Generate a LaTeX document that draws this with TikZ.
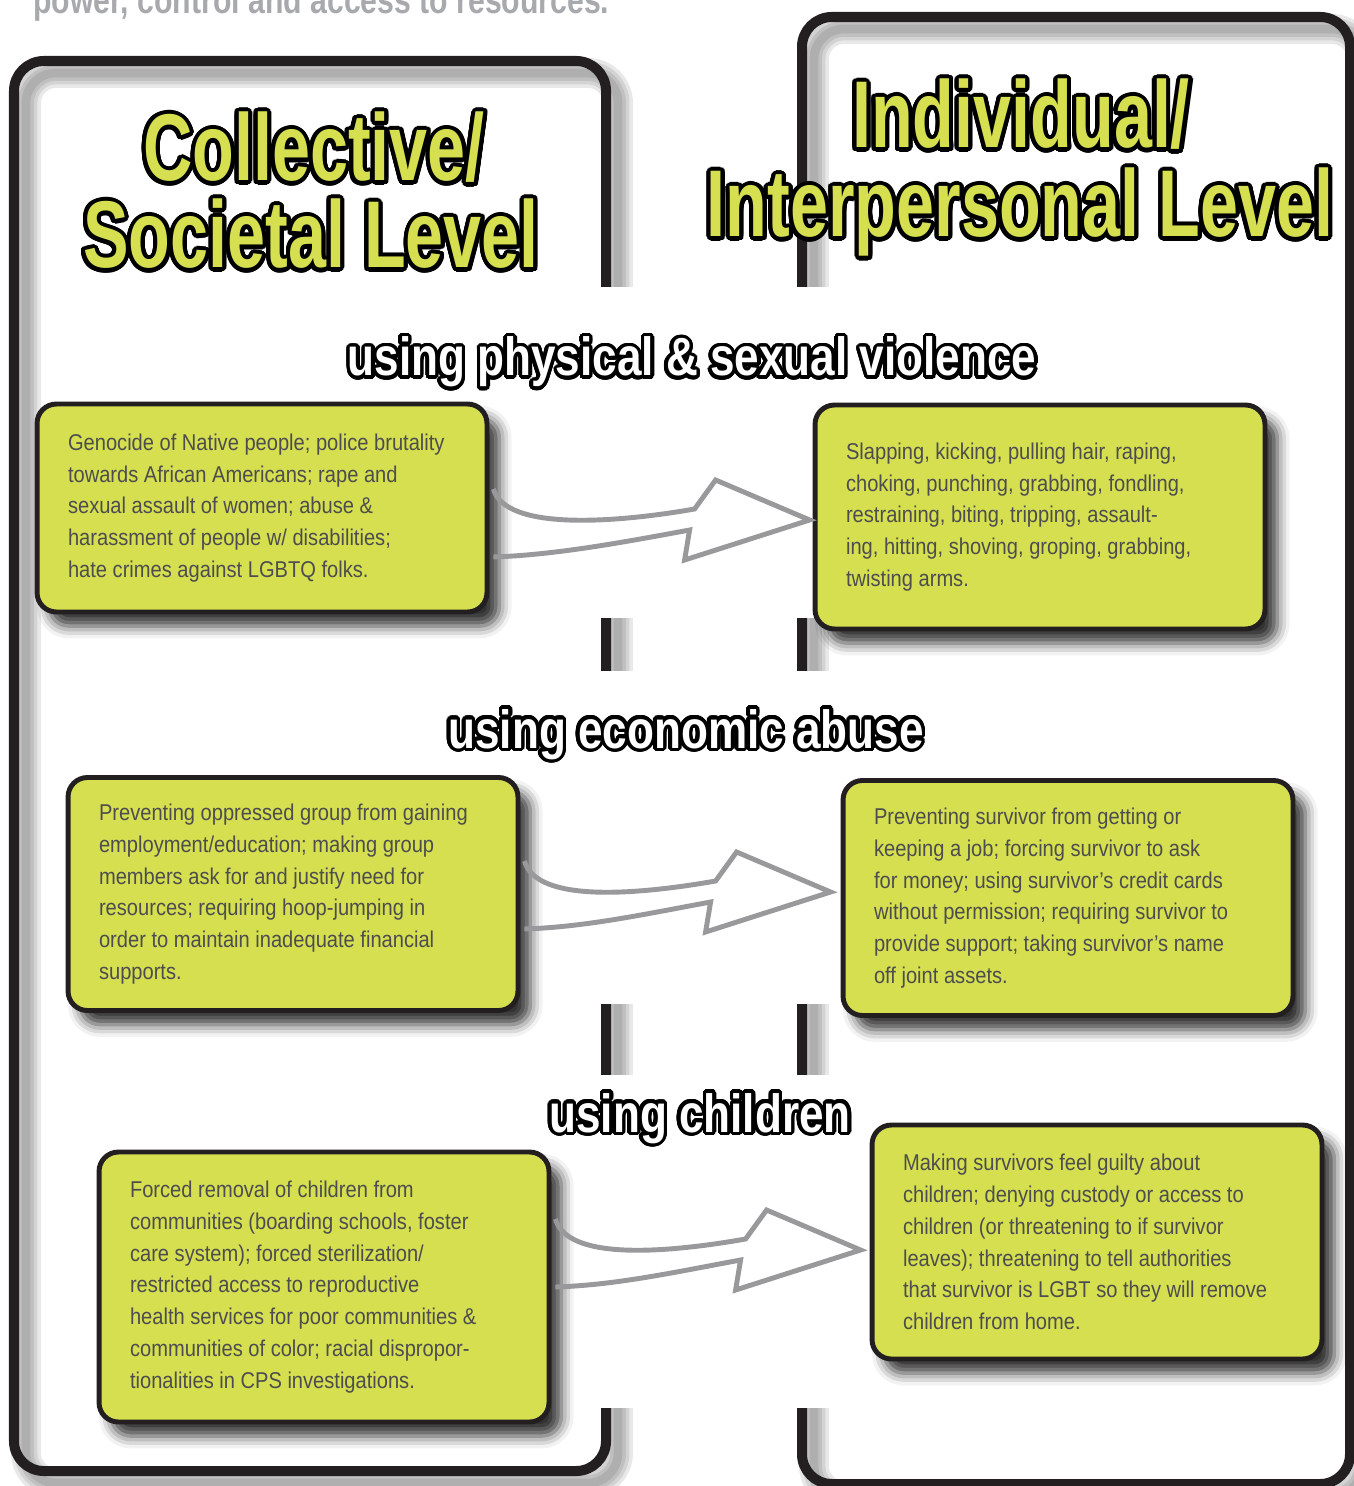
\documentclass[tikz,border=0pt]{standalone}
\usepackage{fontspec}
\usepackage{contour}
\usetikzlibrary{calc,shadows.blur}

\newfontfamily\titlefont{Liberation Sans}[FakeStretch=0.72]
\newfontfamily\labelfont{Liberation Sans}[FakeStretch=0.82]
\newfontfamily\boxfont{Liberation Sans}[FakeStretch=0.88]
\newfontfamily\topfont{Liberation Sans}[FakeStretch=0.8]

\definecolor{boxgreen}{RGB}{213,223,80}
\definecolor{boxtext}{RGB}{77,77,79}
\definecolor{arrowgray}{RGB}{153,153,156}
\definecolor{framedark}{RGB}{35,31,32}
\definecolor{topgray}{RGB}{167,169,172}

\contournumber{32}
\newcommand{\outlined}[2]{\contourlength{#1}\contour{black}{#2}}

\newcommand{\fatarrow}[3]{%
	\coordinate (tip) at ($(#2.west)+(#3)$);
	\coordinate (tail) at (#1.east |- tip);
	\draw[fatline] ($(tail)+(4,-31)$) .. controls +(12,42) and +(-80,14) .. ($(tip)+(-115,-11)$)
		-- ($(tip)+(-94,-40)$) -- (tip) -- ($(tip)+(-125,40)$) -- ($(tip)+(-120,10)$)
		.. controls +(-70,13) and +(60,-2) .. ($(tail)+(4,37)$);
}

\tikzset{
	panel/.style={draw=framedark, line width=5.7pt, rounded corners=17pt},
	panelshade/.style={draw=black, opacity=0.09, line width=#1, rounded corners=17pt, shift={(12,12)}},
	cover/.style={fill=white},
	heading/.style={text=boxgreen, font=\titlefont\bfseries\fontsize{54pt}{50pt}\selectfont, inner sep=0pt},
	sublabel/.style={text=white, font=\labelfont\bfseries\fontsize{30.6pt}{36pt}\selectfont, inner sep=0pt},
	toptext/.style={text=topgray, font=\topfont\bfseries\fontsize{21.5pt}{24pt}\selectfont, inner sep=0pt},
	box/.style={draw=framedark, line width=2.8pt, fill=boxgreen, rounded corners=11pt,
		text=boxtext, font=\boxfont\fontsize{13pt}{18.1pt}\selectfont, align=flush left,
		text width=7.76cm, inner xsep=0.62cm, minimum width=9cm,
		blur shadow={shadow xshift=7pt, shadow yshift=-8pt, shadow blur radius=7pt, shadow opacity=80}},
	fatline/.style={draw=arrowgray, line width=2.8pt},
}

\begin{document}
\begin{tikzpicture}[x=0.02cm, y=-0.02cm]
	\useasboundingbox (0,0) rectangle (1354,1486);

	\foreach \w in {17pt,13pt,9pt,5pt} {
		\draw[panelshade=\w] (14,61) rectangle (606,1471);
		\draw[panelshade=\w] (802,17) rectangle (1350,1484);
	}
	\draw[panel] (14,61) rectangle (606,1471);
	\draw[panel] (802,17) rectangle (1350,1484);
	% gaps in the inner sides
	\fill[cover] (596,287) rectangle (850,618);
	\fill[cover] (596,671) rectangle (850,1004);
	\fill[cover] (596,1075) rectangle (850,1408);

	\node[toptext, anchor=base west] (toptxt) at (33,14) {power, control and access to resources.};

	\node[heading, anchor=base] (coll1) at (314,181) {\outlined{2.3pt}{Collective/}};
	\node[heading, anchor=base] (coll2) at (311,268) {\outlined{2.3pt}{Societal Level}};
	\node[heading, anchor=base] (indiv1) at (1021,148) {\outlined{2.3pt}{Individual/}};
	\node[heading, anchor=base] (indiv2) at (1020,237) {\outlined{2.3pt}{Interpersonal Level}};

	\node[sublabel, anchor=base] (physical) at (692,376) {\outlined{2pt}{using physical \& sexual violence}};
	\node[sublabel, anchor=base] (economic) at (686,748) {\outlined{2pt}{using economic abuse}};
	\node[sublabel, anchor=base] (children) at (700,1132) {\outlined{2pt}{using children}};

	\node[box, minimum height=4.16cm] (physL) at (262,508) {Genocide of Native people; police brutality\\
		towards African Americans; rape and\\
		sexual assault of women; abuse \&\\
		harassment of people w/ disabilities;\\
		hate crimes against LGBTQ folks.};
	\node[box, minimum height=4.48cm] (physR) at (1040,517) {Slapping, kicking, pulling hair, raping,\\
		choking, punching, grabbing, fondling,\\
		restraining, biting, tripping, assault-\\
		ing, hitting, shoving, groping, grabbing,\\
		twisting arms.};
	\node[box, minimum height=4.66cm] (econL) at (293,894) {Preventing oppressed group from gaining\\
		employment/education; making group\\
		members ask for and justify need for\\
		resources; requiring hoop-jumping in\\
		order to maintain inadequate financial\\
		supports.};
	\node[box, minimum height=4.7cm] (econR) at (1068,898) {Preventing survivor from getting or\\
		keeping a job; forcing survivor to ask\\
		for money; using survivor’s credit cards\\
		without permission; requiring survivor to\\
		provide support; taking survivor’s name\\
		off joint assets.};
	\node[box, minimum height=5.4cm] (kidsL) at (324,1287) {Forced removal of children from\\
		communities (boarding schools, foster\\
		care system); forced sterilization/\\
		restricted access to reproductive\\
		health services for poor communities \&\\
		communities of color; racial dispropor-\\
		tionalities in CPS investigations.};
	\node[box, minimum height=4.68cm] (kidsR) at (1097,1242) {Making survivors feel guilty about\\
		children; denying custody or access to\\
		children (or threatening to if survivor\\
		leaves); threatening to tell authorities\\
		that survivor is LGBT so they will remove\\
		children from home.};

	\fatarrow{physL}{physR}{-3,3}
	\fatarrow{econL}{econR}{-10,-6}
	\fatarrow{kidsL}{kidsR}{-9,8}
\end{tikzpicture}
\end{document}
